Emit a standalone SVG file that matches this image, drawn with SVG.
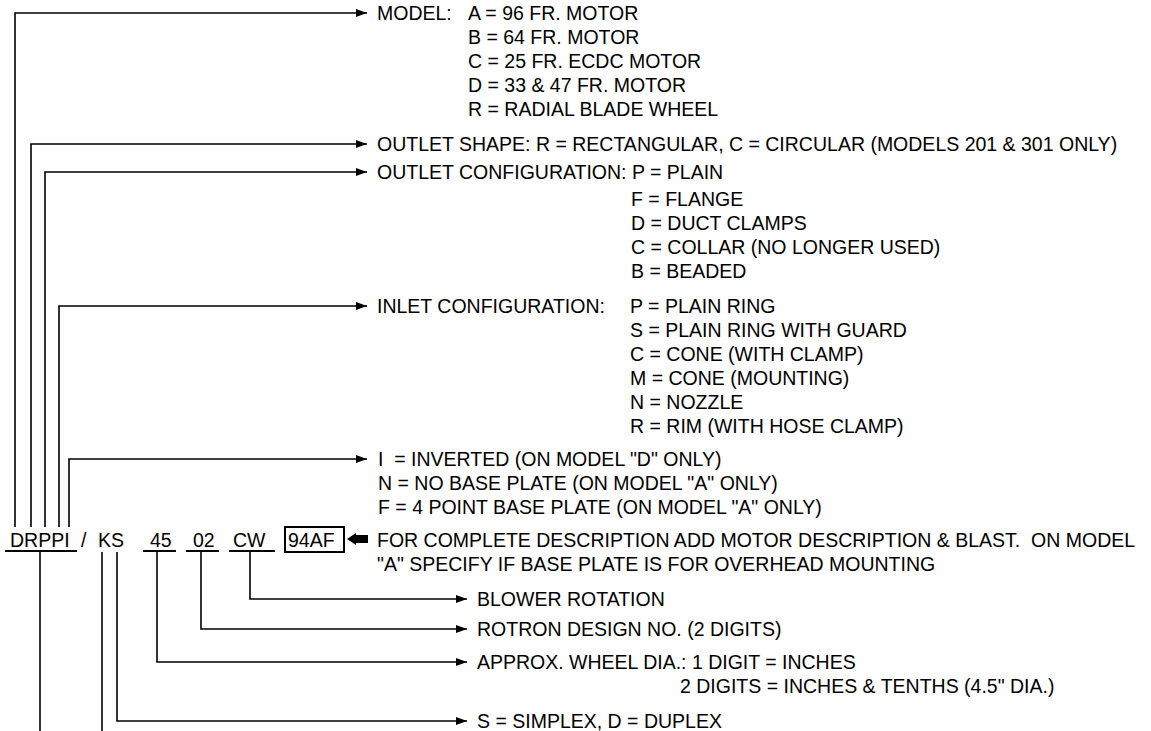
<svg xmlns="http://www.w3.org/2000/svg" width="1151" height="731" viewBox="0 0 1151 731">
<defs>
<marker id="ah" markerUnits="userSpaceOnUse" markerWidth="12" markerHeight="10" refX="11" refY="4" orient="auto">
<path d="M0,0 L11,4 L0,8 Z" fill="#000"/>
</marker>
<style>
text{font-family:"Liberation Sans",Arial,sans-serif;font-size:19.5px;fill:#000}
.c{fill:none;stroke:#000;stroke-width:1.6}
.a{fill:none;stroke:#000;stroke-width:1.6;marker-end:url(#ah)}
.u{stroke:#000;stroke-width:2.2}
</style>
</defs>
<rect width="1151" height="731" fill="#fff"/>
<g id="connectors">
<path class="a" d="M15,527 V13 H367"/>
<path class="a" d="M31,527 V144 H367"/>
<path class="a" d="M45,527 V172 H367"/>
<path class="a" d="M59,527 V306 H367"/>
<path class="a" d="M69,527 V459 H367"/>
<path class="a" d="M250,552 V599 H467"/>
<path class="a" d="M201,552 V629 H467"/>
<path class="a" d="M157,552 V662 H467"/>
<path class="a" d="M117,552 V721 H467"/>
<path class="c" d="M40,552 V731"/>
<path class="c" d="M102,552 V731"/>
<path d="M347,539 L356,533 L356,535 L368,535 L368,543 L356,543 L356,545 Z" fill="#000"/>
</g>
<g id="code">
<text x="10" y="547">DRPPI</text>
<text x="81" y="547">/</text>
<text x="98" y="547">KS</text>
<text x="150" y="547">45</text>
<text x="193" y="547">02</text>
<text x="233" y="547">CW</text>
<line class="u" x1="5" y1="551" x2="77" y2="551"/>
<line class="u" x1="143" y1="551" x2="176" y2="551"/>
<line class="u" x1="186" y1="551" x2="219" y2="551"/>
<line class="u" x1="229" y1="551" x2="275" y2="551"/>
<rect x="285" y="527" width="59" height="25" fill="none" stroke="#000" stroke-width="2"/>
<text x="288" y="547">94AF</text>
</g>
<g id="model">
<text x="377" y="20">MODEL:</text>
<text x="468" y="20">A = 96 FR. MOTOR</text>
<text x="468" y="44">B = 64 FR. MOTOR</text>
<text x="468" y="68">C = 25 FR. ECDC MOTOR</text>
<text x="468" y="92">D = 33 &amp; 47 FR. MOTOR</text>
<text x="468" y="116">R = RADIAL BLADE WHEEL</text>
</g>
<g id="outlet-shape">
<text x="377" y="151">OUTLET SHAPE: R = RECTANGULAR, C = CIRCULAR (MODELS 201 &amp; 301 ONLY)</text>
</g>
<g id="outlet-config">
<text x="377" y="179">OUTLET CONFIGURATION: P = PLAIN</text>
<text x="631" y="206">F = FLANGE</text>
<text x="631" y="230">D = DUCT CLAMPS</text>
<text x="631" y="254">C = COLLAR (NO LONGER USED)</text>
<text x="631" y="278">B = BEADED</text>
</g>
<g id="inlet-config">
<text x="377" y="313">INLET CONFIGURATION:</text>
<text x="630" y="313">P = PLAIN RING</text>
<text x="630" y="337">S = PLAIN RING WITH GUARD</text>
<text x="630" y="361">C = CONE (WITH CLAMP)</text>
<text x="630" y="385">M = CONE (MOUNTING)</text>
<text x="630" y="409">N = NOZZLE</text>
<text x="630" y="433">R = RIM (WITH HOSE CLAMP)</text>
</g>
<g id="base">
<text x="378" y="466" xml:space="preserve">I  = INVERTED (ON MODEL "D" ONLY)</text>
<text x="378" y="490">N = NO BASE PLATE (ON MODEL "A" ONLY)</text>
<text x="378" y="514">F = 4 POINT BASE PLATE (ON MODEL "A" ONLY)</text>
</g>
<g id="note">
<text x="377" y="547" xml:space="preserve">FOR COMPLETE DESCRIPTION ADD MOTOR DESCRIPTION &amp; BLAST.  ON MODEL</text>
<text x="377" y="571">"A" SPECIFY IF BASE PLATE IS FOR OVERHEAD MOUNTING</text>
</g>
<g id="rotation">
<text x="477" y="606">BLOWER ROTATION</text>
</g>
<g id="design">
<text x="477" y="636">ROTRON DESIGN NO. (2 DIGITS)</text>
</g>
<g id="wheel">
<text x="477" y="669">APPROX. WHEEL DIA.: 1 DIGIT = INCHES</text>
<text x="680" y="693">2 DIGITS = INCHES &amp; TENTHS (4.5" DIA.)</text>
</g>
<g id="plex">
<text x="477" y="728">S = SIMPLEX, D = DUPLEX</text>
</g>
</svg>
